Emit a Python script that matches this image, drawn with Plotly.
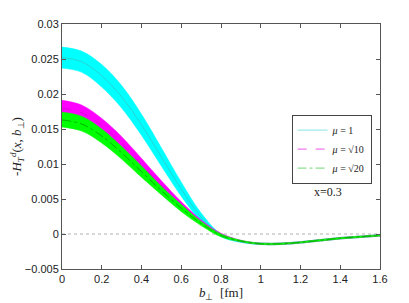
import plotly.graph_objects as go

b = [0.0, 0.1, 0.2, 0.3, 0.4, 0.5, 0.6, 0.7, 0.8, 0.9, 1.0, 1.1, 1.2, 1.3, 1.4, 1.5, 1.6]

cyan_mid = [0.0252, 0.0246, 0.0226, 0.0196, 0.0156, 0.0110, 0.0064, 0.0024, -0.0002, -0.0011, -0.0014, -0.0014, -0.0012, -0.0009, -0.0006, -0.0004, -0.0002]
cyan_up = [0.0267, 0.0261, 0.0242, 0.0212, 0.0171, 0.0123, 0.0074, 0.0030, 0.0000, -0.0010, -0.0013, -0.0013, -0.0011, -0.0008, -0.0005, -0.0003, -0.0001]
cyan_lo = [0.0237, 0.0231, 0.0210, 0.0180, 0.0141, 0.0097, 0.0054, 0.0018, -0.0004, -0.0012, -0.0015, -0.0015, -0.0013, -0.0010, -0.0007, -0.0005, -0.0003]

mag_mid = [0.0180, 0.0173, 0.0155, 0.0129, 0.0099, 0.0069, 0.0041, 0.0017, -0.0001, -0.0010, -0.0014, -0.0014, -0.0012, -0.0009, -0.0006, -0.0004, -0.0002]
mag_up = [0.0191, 0.0184, 0.0165, 0.0139, 0.0108, 0.0076, 0.0046, 0.0020, 0.0001, -0.0009, -0.0013, -0.0013, -0.0011, -0.0008, -0.0005, -0.0003, -0.0001]
mag_lo = [0.0169, 0.0162, 0.0145, 0.0119, 0.0090, 0.0062, 0.0036, 0.0014, -0.0003, -0.0011, -0.0015, -0.0015, -0.0013, -0.0010, -0.0007, -0.0005, -0.0003]

grn_mid = [0.0163, 0.0157, 0.0140, 0.0116, 0.0089, 0.0062, 0.0037, 0.0015, -0.0002, -0.0010, -0.0014, -0.0014, -0.0012, -0.0009, -0.0006, -0.0004, -0.0002]
grn_up = [0.0174, 0.0168, 0.0150, 0.0125, 0.0097, 0.0068, 0.0042, 0.0018, 0.0000, -0.0009, -0.0013, -0.0013, -0.0011, -0.0008, -0.0005, -0.0003, -0.0001]
grn_lo = [0.0153, 0.0147, 0.0130, 0.0107, 0.0081, 0.0056, 0.0032, 0.0012, -0.0004, -0.0011, -0.0015, -0.0015, -0.0013, -0.0010, -0.0007, -0.0005, -0.0003]

legend_labels = ["<i>μ</i> = 1", "<i>μ</i> = √10", "<i>μ</i> = √20"]
x_ticks = [0, 0.2, 0.4, 0.6, 0.8, 1.0, 1.2, 1.4, 1.6]
y_ticks = [-0.005, 0, 0.005, 0.01, 0.015, 0.02, 0.025, 0.03]

series = [
    (cyan_lo, cyan_up, cyan_mid, "#00ffff", "#30c8c8", "solid", "#9fe9e9"),
    (mag_lo, mag_up, mag_mid, "#ff00ff", "#d000d0", "dash", "#f07af0"),
    (grn_lo, grn_up, grn_mid, "#00ff00", "#00a000", "dashdot", "#8fdf8f"),
]

fig = go.Figure()
for lo, up, mid, fillc, linec, dash, legc in series:
    fig.add_trace(go.Scatter(x=b, y=lo, mode="lines", line=dict(color=fillc, width=0.6, shape="spline"),
                             showlegend=False, hoverinfo="skip"))
    fig.add_trace(go.Scatter(x=b, y=up, mode="lines", line=dict(color=fillc, width=0.6, shape="spline"),
                             fill="tonexty", fillcolor=fillc, showlegend=False, hoverinfo="skip"))
    fig.add_trace(go.Scatter(x=b, y=mid, mode="lines", line=dict(color=linec, width=0.8, dash=dash, shape="spline"),
                             showlegend=False))

for (lo, up, mid, fillc, linec, dash, legc), name in zip(series, legend_labels):
    fig.add_trace(go.Scatter(x=[None], y=[None], mode="lines", name=name,
                             line=dict(color=legc, width=1.2, dash=dash)))

fig.add_hline(y=0, line=dict(color="#b0b0b0", width=1, dash="dot"), layer="below")

fig.add_annotation(x=0.836, y=0.314, xref="paper", yref="paper", text="x=0.3", showarrow=False,
                   xanchor="center", yanchor="middle",
                   font=dict(family="Liberation Serif", size=12, color="#222"))

axis_common = dict(showline=True, linecolor="#555", linewidth=1, mirror="ticks", ticks="inside",
                   ticklen=4, tickcolor="#555", showgrid=False, zeroline=False, automargin=False,
                   tickfont=dict(family="Liberation Sans", size=11, color="#222"))

fig.update_xaxes(range=[0, 1.6], tickvals=x_ticks, ticktext=[("%g" % v) for v in x_ticks],
                 title=dict(text="<i>b</i><sub>⊥</sub>  [fm]", standoff=0,
                            font=dict(family="Liberation Serif", size=13, color="#222")),
                 **axis_common)
fig.update_yaxes(range=[-0.005, 0.03], tickvals=y_ticks,
                 ticktext=[("−%g" % -v) if v < 0 else ("%g" % v) for v in y_ticks],
                 title=dict(text="-<i>H</i><sub><i>T</i></sub><sup><i>d</i></sup>(<i>x</i>, <i>b</i><sub>⊥</sub>)",
                            standoff=8, font=dict(family="Liberation Serif", size=13, color="#222")),
                 **axis_common)

fig.update_layout(
    width=409, height=303,
    margin=dict(l=54, r=37, t=16, b=42),
    paper_bgcolor="white", plot_bgcolor="white",
    legend=dict(x=0.722, y=0.63, xanchor="left", yanchor="top", bgcolor="white", traceorder="normal",
                bordercolor="#444", borderwidth=1, font=dict(family="Liberation Serif", size=10, color="#222"),
                itemwidth=30, tracegroupgap=0),
    showlegend=True,
)

fig.write_html("out.html")
